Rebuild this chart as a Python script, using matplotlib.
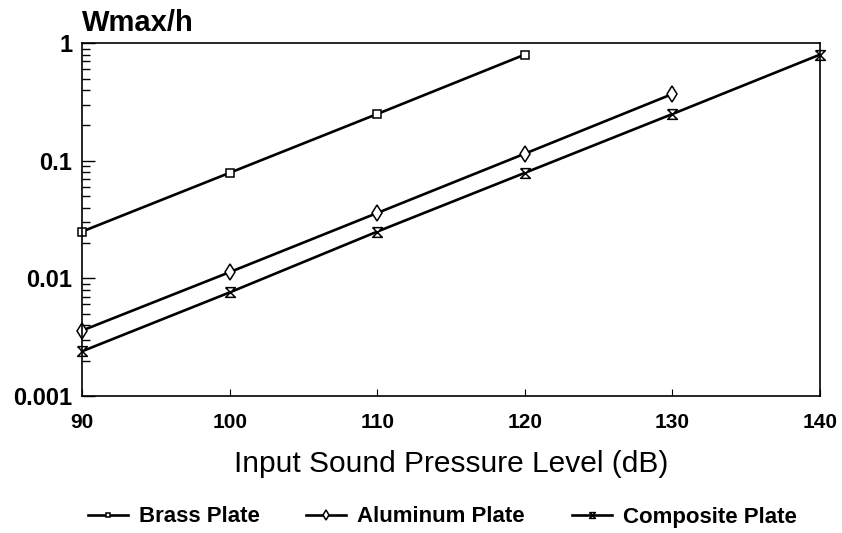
import matplotlib
matplotlib.use("Agg")
import matplotlib.pyplot as plt
from matplotlib.ticker import LogLocator, FixedLocator, NullFormatter, FixedFormatter

# ---- data ----
spl_brass = [90, 100, 110, 120]
w_brass = [0.025, 0.079, 0.25, 0.80]
spl_alu = [90, 100, 110, 120, 130]
w_alu = [0.0036, 0.0113, 0.036, 0.115, 0.37]
spl_comp = [90, 100, 110, 120, 130, 140]
w_comp = [0.0024, 0.0076, 0.025, 0.079, 0.25, 0.80]
series_names = ["Brass Plate", "Aluminum Plate", "Composite Plate"]
x_ticks = [90, 100, 110, 120, 130, 140]
y_ticks = [0.001, 0.01, 0.1, 1]
y_ticklabels = ["0.001", "0.01", "0.1", "1"]

base = "Liberation Sans"

fig = plt.figure(figsize=(8.42, 5.33), dpi=100)
ax = fig.add_axes([0.0974, 0.257, 0.8766, 0.662])

hourglass = [(-1, 1), (1, 1), (-1, -1), (1, -1), (-1, 1)]
common = dict(color="black", lw=1.9, mfc="white", mec="black", mew=1.1, clip_on=False)
ax.plot(spl_brass, w_brass, marker="s", ms=6, label=series_names[0], **common)
ax.plot(spl_alu, w_alu, marker="d", ms=8, label=series_names[1], **common)
ax.plot(spl_comp, w_comp, marker=hourglass, ms=7, label=series_names[2], **common)

ax.set_yscale("log")
ax.set_xlim(90, 140)
ax.set_ylim(0.001, 1)

for s in ["top", "right", "left", "bottom"]:
    ax.spines[s].set_linewidth(1.2)

ax.xaxis.set_major_locator(FixedLocator(x_ticks))
ax.set_xticklabels([str(v) for v in x_ticks], fontfamily=base, fontweight="bold", fontsize=15)
ax.yaxis.set_major_locator(FixedLocator(y_ticks))
ax.yaxis.set_major_formatter(FixedFormatter(y_ticklabels))
ax.yaxis.set_minor_locator(LogLocator(base=10, subs=range(2, 10)))
ax.yaxis.set_minor_formatter(NullFormatter())
for lab in ax.get_yticklabels():
    lab.set_fontfamily(base)
    lab.set_fontweight("bold")
    lab.set_fontsize(17)

ax.tick_params(axis="x", which="major", direction="in", length=5, width=0.8, pad=12,
               top=False)
ax.tick_params(axis="y", which="major", direction="in", length=9, width=1.0, pad=7,
               right=False)
ax.tick_params(axis="y", which="minor", direction="in", length=6, width=1.0, right=False)

ax.set_xlabel("Input Sound Pressure Level (dB)", fontfamily=base, fontsize=21.5, labelpad=13)
fig.text(82 / 842, 1 - 23 / 533, "Wmax/h", fontfamily=base, fontweight="bold", fontsize=21,
         ha="left", va="center")

leg = fig.legend(loc="center", bbox_to_anchor=(0.525, 1 - 517 / 533), ncol=3, frameon=False,
                 prop={"family": base, "weight": "bold", "size": 16},
                 handlelength=1.8, columnspacing=2.1, handletextpad=0.5, markerscale=0.6)

fig.savefig("out.png", dpi=100)
